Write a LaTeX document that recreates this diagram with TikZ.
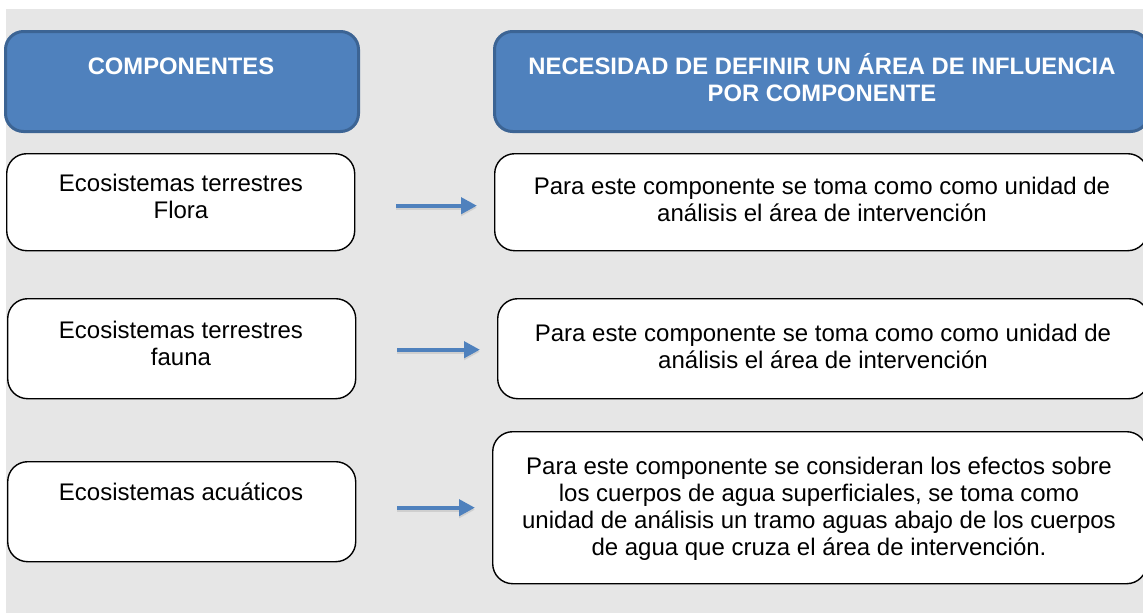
\documentclass[tikz,border=0pt]{standalone}
\usepackage{fontspec}
\setmainfont{Liberation Sans}
\usetikzlibrary{arrows.meta}
\definecolor{bgray}{HTML}{E6E6E6}
\definecolor{hblue}{HTML}{4F81BD}
\definecolor{hborder}{HTML}{3C6494}
\begin{document}
\begin{tikzpicture}[x=1pt,y=-1pt,
  hdr/.style={draw=hborder, line width=3pt, fill=hblue, rounded corners=18pt, anchor=north west, inner sep=0pt},
  itembox/.style={draw=black, line width=1.4pt, fill=white, rounded corners=20pt, anchor=north west, inner sep=0pt},
  txt/.style={font=\fontsize{24}{27}\selectfont, align=center, inner sep=0pt, anchor=base},
  htxt/.style={font=\fontsize{23.8}{27}\selectfont\bfseries, text=white, align=center, inner sep=0pt, anchor=base},
  arr/.style={draw=hblue, line width=4pt, -{Triangle[length=16pt,width=16pt]}},
  arrshadow/.style={draw=black!35, opacity=0.35, line width=4pt, -{Triangle[length=16pt,width=16pt]}}]
\useasboundingbox (0,0) rectangle (1143,613);
\fill[bgray] (6,9) rectangle (1143,613);
% headers
\node[hdr, minimum width=353pt, minimum height=100pt] (h1) at (4,30) {};
\node[hdr, minimum width=654pt, minimum height=100pt] (h2) at (493,30) {};
\node[htxt] (h1t) at (181,74) {COMPONENTES};
\node[htxt] (h2t) at (822,101) {NECESIDAD DE DEFINIR UN ÁREA DE INFLUENCIA\\POR COMPONENTE};
% left boxes
\node[itembox, minimum width=348pt, minimum height=97pt] (l1) at (6,153) {};
\node[itembox, minimum width=348pt, minimum height=100pt] (l2) at (7,298) {};
\node[itembox, minimum width=348pt, minimum height=100pt] (l3) at (7,461) {};
\node[txt] (l1t) at (181,218) {Ecosistemas terrestres\\Flora};
\node[txt] (l2t) at (181,365) {Ecosistemas terrestres\\fauna};
\node[txt] (l3t) at (181,500) {Ecosistemas acuáticos};
% right boxes
\node[itembox, minimum width=653pt, minimum height=97pt] (r1) at (494,153) {};
\node[itembox, minimum width=651pt, minimum height=100pt] (r2) at (497,298) {};
\node[itembox, minimum width=654pt, minimum height=152pt] (r3) at (492,431) {};
\node[txt] (r1t) at (822,221) {Para este componente se toma como como unidad de\\análisis el área de intervención};
\node[txt] (r2t) at (823,368) {Para este componente se toma como como unidad de\\análisis el área de intervención};
\node[txt] (r3t) at (819,555) {Para este componente se consideran los efectos sobre\\los cuerpos de agua superficiales, se toma como\\unidad de análisis un tramo aguas abajo de los cuerpos\\de agua que cruza el área de intervención.};
% arrows
\foreach \l/\r/\dy in {l1/r1/-3.5, l2/r2/-1, l3/r3/4}{
  \draw[arrshadow] ([xshift=41pt,yshift=\dy pt-2pt]\l.east) -- ([xshift=-17pt,yshift=\dy pt-2pt]\l.east -| \r.west);
  \draw[arr] ([xshift=41pt,yshift=\dy pt]\l.east) -- ([xshift=-17pt,yshift=\dy pt]\l.east -| \r.west);
}
\end{tikzpicture}
\end{document}
